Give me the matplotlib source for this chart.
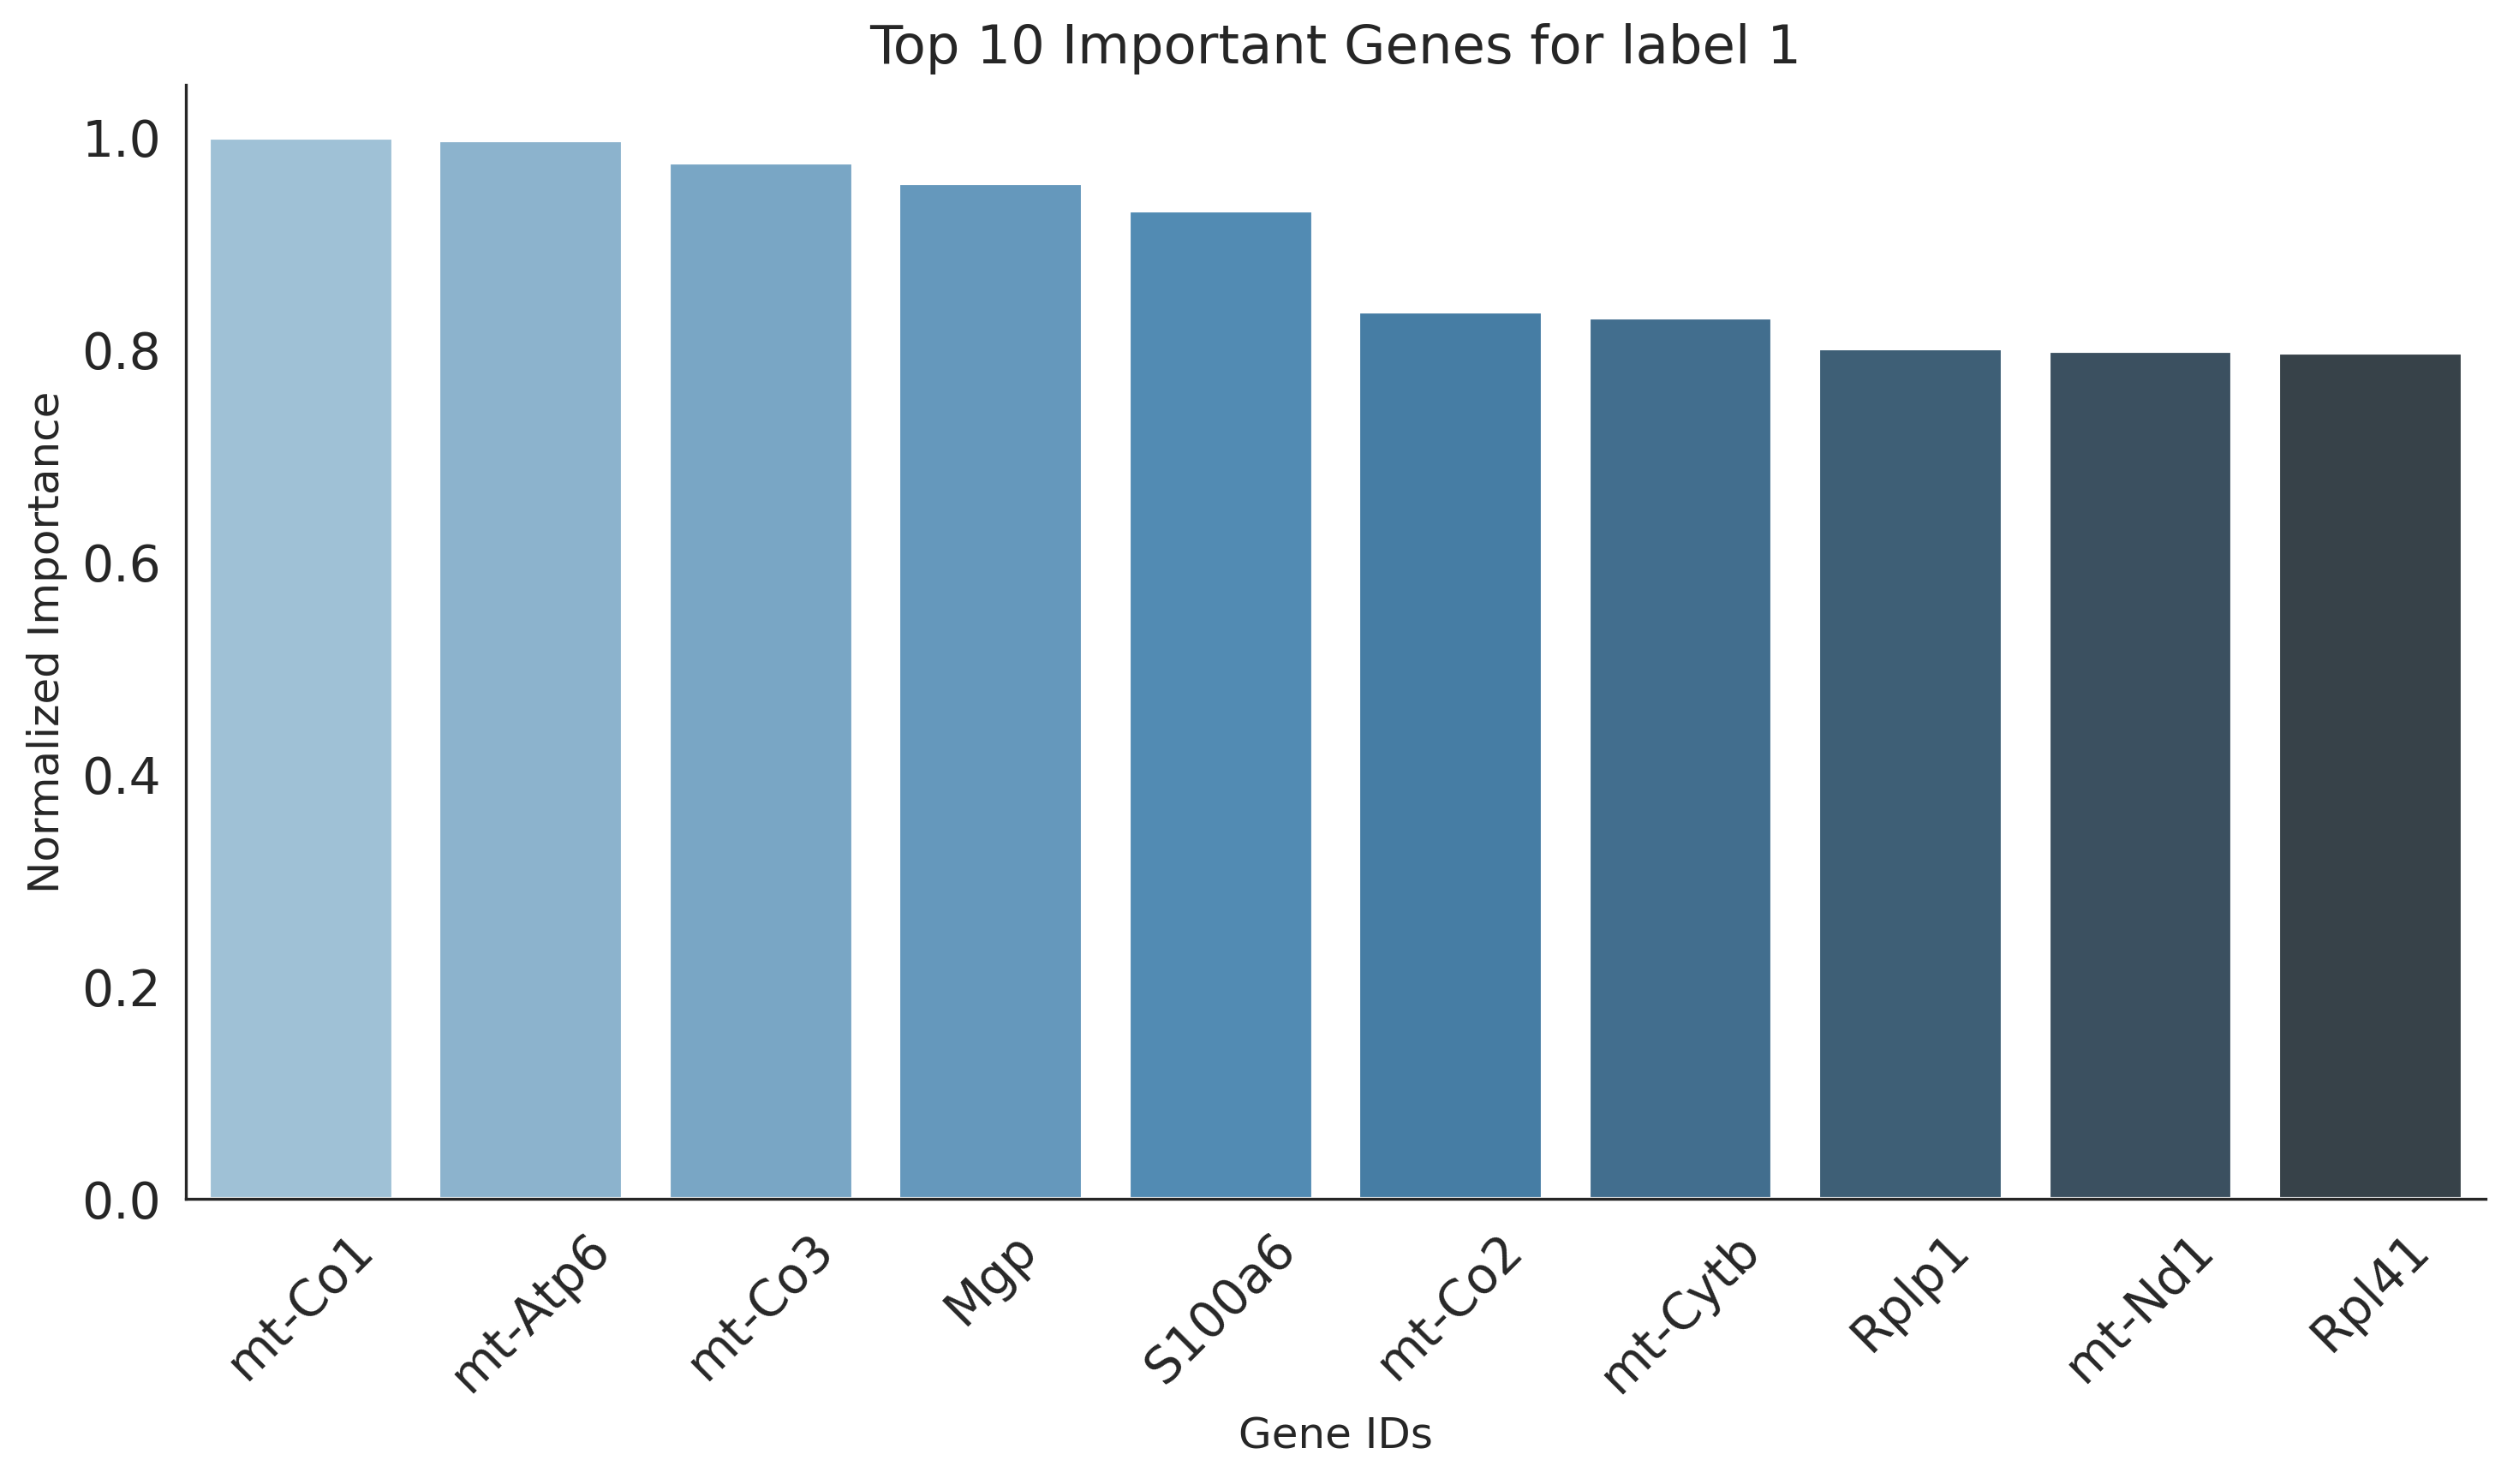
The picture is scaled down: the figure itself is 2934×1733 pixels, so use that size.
import numpy as np
import matplotlib
matplotlib.use("Agg")
import matplotlib.pyplot as plt
import seaborn as sns

# top genes for label 1, normalized importance
genes = ["mt-Co1", "mt-Atp6", "mt-Co3", "Mgp", "S100a6",
         "mt-Co2", "mt-Cytb", "Rplp1", "mt-Nd1", "Rpl41"]
importance = [1.000, 0.997, 0.976, 0.957, 0.931,
              0.836, 0.830, 0.801, 0.799, 0.797]

sns.set_style("white")
# barplot desaturates palette colors by 0.75
colors = [sns.desaturate(c, 0.75) for c in sns.color_palette("Blues_d", len(genes))]

fig = plt.figure(figsize=(9.78, 5.777), dpi=300)
ax = fig.add_axes([0.074, 0.192, 0.915, 0.751])

ax.bar(np.arange(len(genes)), importance, width=0.8, color=colors)
ax.set_xlim(-0.5, len(genes) - 0.5)
ax.set_xticks(np.arange(len(genes)))
ax.set_xticklabels(genes, rotation=45, fontsize=14)
ax.tick_params(axis="y", labelsize=14)

ax.set_title("Top 10 Important Genes for label 1", fontsize=15)
ax.set_xlabel("Gene IDs", fontsize=12)
ax.set_ylabel("Normalized Importance", fontsize=12)
sns.despine(ax=ax)

fig.savefig("out.png", dpi=300)
